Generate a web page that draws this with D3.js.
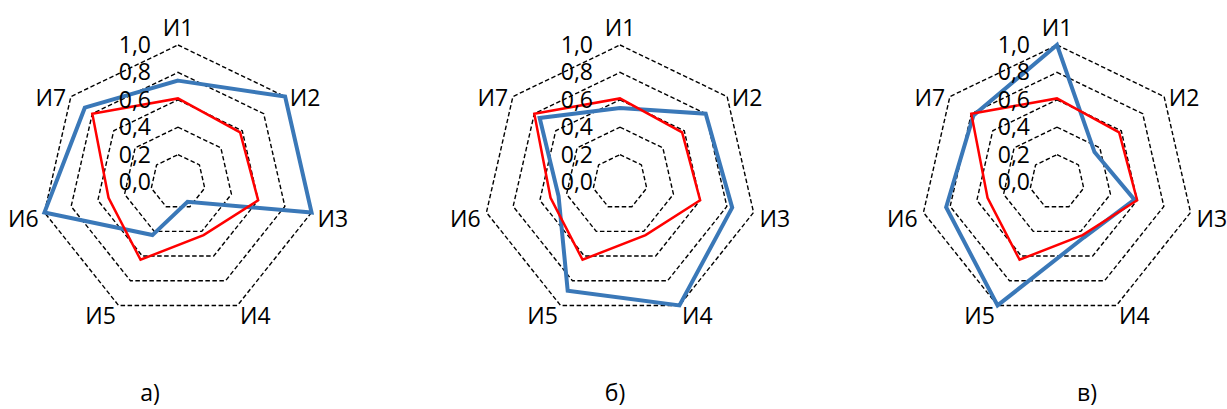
<!DOCTYPE html>
<html>
<head>
<meta charset="utf-8">
<script src="https://cdn.jsdelivr.net/npm/d3@7"></script>
<style>
  body { margin: 0; background: #fff; }
  text { font-family: "Open Sans", "Noto Sans", sans-serif; fill: #000; }
</style>
</head>
<body>
<div id="chart"></div>
<script>
const categories = ["И1", "И2", "И3", "И4", "И5", "И6", "И7"];
const ticks = [0, 0.2, 0.4, 0.6, 0.8, 1.0];
const tickLabels = ["0,0", "0,2", "0,4", "0,6", "0,8", "1,0"];
const panelLabels = ["а)", "б)", "в)"];

// red series is the same in all three panels
const redValues = [0.61, 0.58, 0.60, 0.43, 0.63, 0.52, 0.80];
const blueA = [0.74, 1.00, 1.00, 0.16, 0.43, 1.00, 0.87];
const blueB = [0.54, 0.80, 0.84, 1.00, 0.88, 0.46, 0.75];
const blueC = [1.00, 0.35, 0.58, 0.45, 1.00, 0.83, 0.78];

const width = 1227;
const height = 409;
const R = 137;
const centers = [[178, 182], [620, 182], [1057, 182]];
const captionX = [150, 615, 1087];

const svg = d3.select("#chart")
    .append("svg")
    .attr("width", width)
    .attr("height", height);

const rScale = d3.scaleLinear().domain([0, 1]).range([0, R]);
const angle = d3.scalePoint()
    .domain(categories)
    .range([0, 2 * Math.PI * (categories.length - 1) / categories.length]);

const radial = d3.lineRadial()
    .angle((d, i) => angle(categories[i]))
    .radius(d => rScale(d))
    .curve(d3.curveLinearClosed);

function drawPanel(idx, blue) {
    const [cx, cy] = centers[idx];
    const g = svg.append("g").attr("transform", `translate(${cx}, ${cy})`);

    // dashed rings, no spokes
    g.selectAll(".ring")
        .data(ticks.filter(t => t > 0))
        .enter().append("path")
        .attr("d", t => radial(categories.map(() => t)))
        .attr("fill", "none")
        .attr("stroke", "#000")
        .attr("stroke-width", 1.4)
        .attr("stroke-dasharray", "4.5,2.5");

    g.append("path")
        .attr("d", radial(blue))
        .attr("fill", "none")
        .attr("stroke", "#3a78b8")
        .attr("stroke-width", 4)
        .attr("stroke-linejoin", "miter");

    g.append("path")
        .attr("d", radial(redValues))
        .attr("fill", "none")
        .attr("stroke", "#ff0000")
        .attr("stroke-width", 2.5);

    // tick labels sit left of the vertical axis (they overlap, as in the original)
    g.selectAll(".tick")
        .data(ticks)
        .enter().append("text")
        .attr("x", -27)
        .attr("y", t => -rScale(t))
        .attr("dy", "0.35em")
        .attr("text-anchor", "end")
        .attr("font-size", "23px")
        .text((t, i) => tickLabels[i]);

    // category labels
    g.selectAll(".cat")
        .data(categories)
        .enter().append("text")
        .each(function (c) {
            const a = angle(c);
            const s = Math.sin(a), k = Math.cos(a);
            let x = (R + 6) * s;
            let y = -(R + 6) * k;
            if (Math.abs(s) < 0.1) y -= 16;
            d3.select(this)
                .attr("x", x)
                .attr("y", y + 5)
                .attr("dy", "0.35em")
                .attr("text-anchor", Math.abs(s) < 0.1 ? "middle" : (s > 0 ? "start" : "end"));
        })
        .attr("font-size", "23px")
        .text(c => c);

    svg.append("text")
        .attr("x", captionX[idx])
        .attr("y", 401)
        .attr("text-anchor", "middle")
        .attr("font-size", "23px")
        .text(panelLabels[idx]);
}

drawPanel(0, blueA);
drawPanel(1, blueB);
drawPanel(2, blueC);
</script>
</body>
</html>
